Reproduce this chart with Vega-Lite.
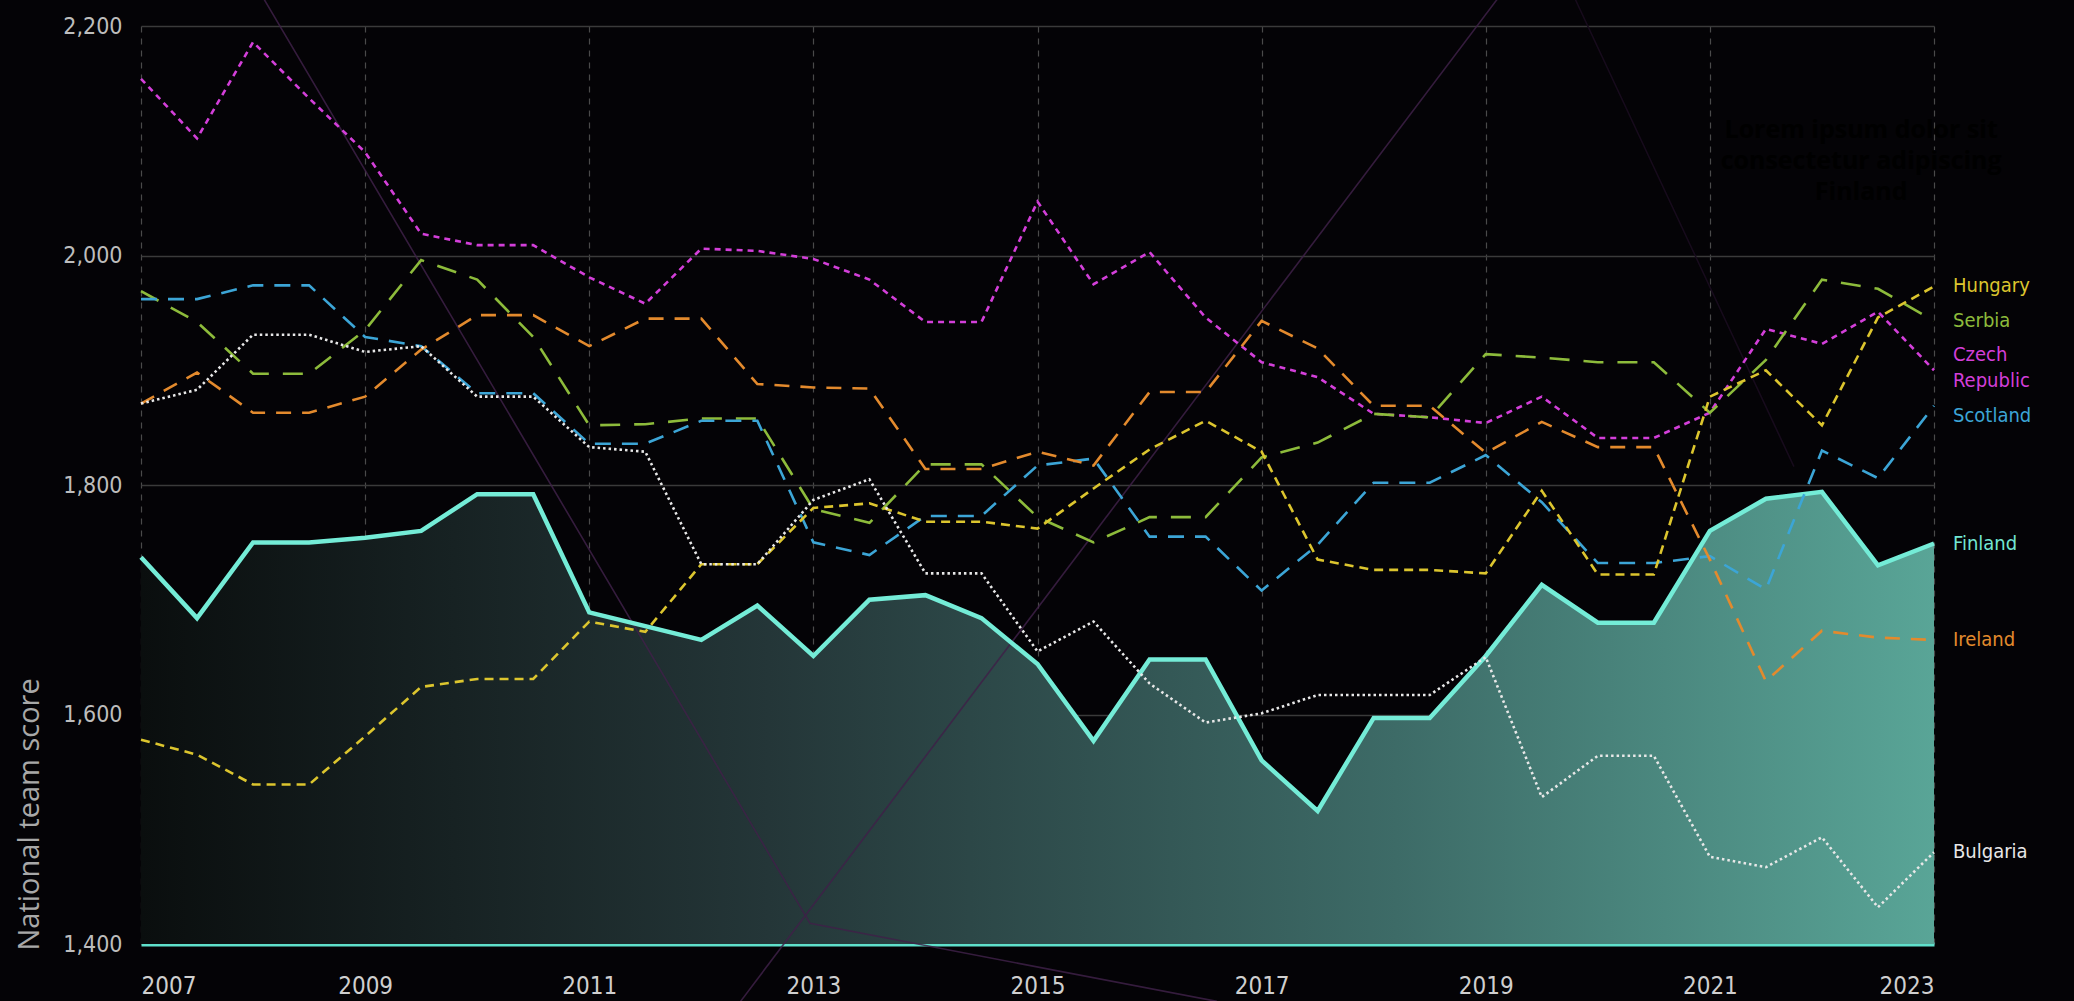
{
  "$schema": "https://vega.github.io/schema/vega-lite/v6.json",
  "width": 1793,
  "height": 918,
  "autosize": {"type": "none"},
  "padding": {"left": 141, "top": 26, "right": 140, "bottom": 57},
  "background": "#040306",
  "config": {
    "view": {"stroke": null},
    "axis": {"labelFont": "DejaVu Sans Condensed", "titleFont": "Open Sans"}
  },
  "datasets": {
    "scores": [
      {"country": "Finland", "year": 2007, "score": 1737}, {"country": "Finland", "year": 2007.5, "score": 1684}, {"country": "Finland", "year": 2008, "score": 1750}, {"country": "Finland", "year": 2008.5, "score": 1750}, {"country": "Finland", "year": 2009, "score": 1754}, {"country": "Finland", "year": 2009.5, "score": 1760}, {"country": "Finland", "year": 2010, "score": 1792}, {"country": "Finland", "year": 2010.5, "score": 1792}, {"country": "Finland", "year": 2011, "score": 1689}, {"country": "Finland", "year": 2011.5, "score": 1677}, {"country": "Finland", "year": 2012, "score": 1665}, {"country": "Finland", "year": 2012.5, "score": 1695}, {"country": "Finland", "year": 2013, "score": 1651}, {"country": "Finland", "year": 2013.5, "score": 1700}, {"country": "Finland", "year": 2014, "score": 1704}, {"country": "Finland", "year": 2014.5, "score": 1684}, {"country": "Finland", "year": 2015, "score": 1644}, {"country": "Finland", "year": 2015.5, "score": 1577}, {"country": "Finland", "year": 2016, "score": 1648}, {"country": "Finland", "year": 2016.5, "score": 1648}, {"country": "Finland", "year": 2017, "score": 1560}, {"country": "Finland", "year": 2017.5, "score": 1516}, {"country": "Finland", "year": 2018, "score": 1597}, {"country": "Finland", "year": 2018.5, "score": 1597}, {"country": "Finland", "year": 2019, "score": 1651}, {"country": "Finland", "year": 2019.5, "score": 1713}, {"country": "Finland", "year": 2020, "score": 1680}, {"country": "Finland", "year": 2020.5, "score": 1680}, {"country": "Finland", "year": 2021, "score": 1760}, {"country": "Finland", "year": 2021.5, "score": 1788}, {"country": "Finland", "year": 2022, "score": 1794}, {"country": "Finland", "year": 2022.5, "score": 1730}, {"country": "Finland", "year": 2023, "score": 1749},

      {"country": "Czech Republic", "year": 2007, "score": 2154}, {"country": "Czech Republic", "year": 2007.5, "score": 2102}, {"country": "Czech Republic", "year": 2008, "score": 2186}, {"country": "Czech Republic", "year": 2008.5, "score": 2137}, {"country": "Czech Republic", "year": 2009, "score": 2090}, {"country": "Czech Republic", "year": 2009.5, "score": 2019}, {"country": "Czech Republic", "year": 2010, "score": 2009}, {"country": "Czech Republic", "year": 2010.5, "score": 2009}, {"country": "Czech Republic", "year": 2011, "score": 1981}, {"country": "Czech Republic", "year": 2011.5, "score": 1958}, {"country": "Czech Republic", "year": 2012, "score": 2006}, {"country": "Czech Republic", "year": 2012.5, "score": 2004}, {"country": "Czech Republic", "year": 2013, "score": 1997}, {"country": "Czech Republic", "year": 2013.5, "score": 1979}, {"country": "Czech Republic", "year": 2014, "score": 1942}, {"country": "Czech Republic", "year": 2014.5, "score": 1942}, {"country": "Czech Republic", "year": 2015, "score": 2047}, {"country": "Czech Republic", "year": 2015.5, "score": 1975}, {"country": "Czech Republic", "year": 2016, "score": 2003}, {"country": "Czech Republic", "year": 2016.5, "score": 1946}, {"country": "Czech Republic", "year": 2017, "score": 1907}, {"country": "Czech Republic", "year": 2017.5, "score": 1894}, {"country": "Czech Republic", "year": 2018, "score": 1862}, {"country": "Czech Republic", "year": 2018.5, "score": 1859}, {"country": "Czech Republic", "year": 2019, "score": 1854}, {"country": "Czech Republic", "year": 2019.5, "score": 1877}, {"country": "Czech Republic", "year": 2020, "score": 1841}, {"country": "Czech Republic", "year": 2020.5, "score": 1841}, {"country": "Czech Republic", "year": 2021, "score": 1863}, {"country": "Czech Republic", "year": 2021.5, "score": 1936}, {"country": "Czech Republic", "year": 2022, "score": 1923}, {"country": "Czech Republic", "year": 2022.5, "score": 1951}, {"country": "Czech Republic", "year": 2023, "score": 1900},

      {"country": "Serbia", "year": 2007, "score": 1969}, {"country": "Serbia", "year": 2007.5, "score": 1942}, {"country": "Serbia", "year": 2008, "score": 1897}, {"country": "Serbia", "year": 2008.5, "score": 1897}, {"country": "Serbia", "year": 2009, "score": 1935}, {"country": "Serbia", "year": 2009.5, "score": 1996}, {"country": "Serbia", "year": 2010, "score": 1979}, {"country": "Serbia", "year": 2010.5, "score": 1929}, {"country": "Serbia", "year": 2011, "score": 1852}, {"country": "Serbia", "year": 2011.5, "score": 1853}, {"country": "Serbia", "year": 2012, "score": 1858}, {"country": "Serbia", "year": 2012.5, "score": 1858}, {"country": "Serbia", "year": 2013, "score": 1779}, {"country": "Serbia", "year": 2013.5, "score": 1767}, {"country": "Serbia", "year": 2014, "score": 1818}, {"country": "Serbia", "year": 2014.5, "score": 1818}, {"country": "Serbia", "year": 2015, "score": 1772}, {"country": "Serbia", "year": 2015.5, "score": 1750}, {"country": "Serbia", "year": 2016, "score": 1772}, {"country": "Serbia", "year": 2016.5, "score": 1772}, {"country": "Serbia", "year": 2017, "score": 1824}, {"country": "Serbia", "year": 2017.5, "score": 1837}, {"country": "Serbia", "year": 2018, "score": 1862}, {"country": "Serbia", "year": 2018.5, "score": 1859}, {"country": "Serbia", "year": 2019, "score": 1914}, {"country": "Serbia", "year": 2019.5, "score": 1911}, {"country": "Serbia", "year": 2020, "score": 1907}, {"country": "Serbia", "year": 2020.5, "score": 1907}, {"country": "Serbia", "year": 2021, "score": 1863}, {"country": "Serbia", "year": 2021.5, "score": 1909}, {"country": "Serbia", "year": 2022, "score": 1979}, {"country": "Serbia", "year": 2022.5, "score": 1971}, {"country": "Serbia", "year": 2023, "score": 1943},

      {"country": "Scotland", "year": 2007, "score": 1962}, {"country": "Scotland", "year": 2007.5, "score": 1962}, {"country": "Scotland", "year": 2008, "score": 1974}, {"country": "Scotland", "year": 2008.5, "score": 1974}, {"country": "Scotland", "year": 2009, "score": 1929}, {"country": "Scotland", "year": 2009.5, "score": 1921}, {"country": "Scotland", "year": 2010, "score": 1880}, {"country": "Scotland", "year": 2010.5, "score": 1880}, {"country": "Scotland", "year": 2011, "score": 1836}, {"country": "Scotland", "year": 2011.5, "score": 1836}, {"country": "Scotland", "year": 2012, "score": 1856}, {"country": "Scotland", "year": 2012.5, "score": 1856}, {"country": "Scotland", "year": 2013, "score": 1750}, {"country": "Scotland", "year": 2013.5, "score": 1739}, {"country": "Scotland", "year": 2014, "score": 1773}, {"country": "Scotland", "year": 2014.5, "score": 1773}, {"country": "Scotland", "year": 2015, "score": 1817}, {"country": "Scotland", "year": 2015.5, "score": 1823}, {"country": "Scotland", "year": 2016, "score": 1755}, {"country": "Scotland", "year": 2016.5, "score": 1755}, {"country": "Scotland", "year": 2017, "score": 1708}, {"country": "Scotland", "year": 2017.5, "score": 1748}, {"country": "Scotland", "year": 2018, "score": 1802}, {"country": "Scotland", "year": 2018.5, "score": 1802}, {"country": "Scotland", "year": 2019, "score": 1826}, {"country": "Scotland", "year": 2019.5, "score": 1785}, {"country": "Scotland", "year": 2020, "score": 1732}, {"country": "Scotland", "year": 2020.5, "score": 1732}, {"country": "Scotland", "year": 2021, "score": 1738}, {"country": "Scotland", "year": 2021.5, "score": 1709}, {"country": "Scotland", "year": 2022, "score": 1830}, {"country": "Scotland", "year": 2022.5, "score": 1806}, {"country": "Scotland", "year": 2023, "score": 1869},

      {"country": "Ireland", "year": 2007, "score": 1871}, {"country": "Ireland", "year": 2007.5, "score": 1898}, {"country": "Ireland", "year": 2008, "score": 1863}, {"country": "Ireland", "year": 2008.5, "score": 1863}, {"country": "Ireland", "year": 2009, "score": 1877}, {"country": "Ireland", "year": 2009.5, "score": 1918}, {"country": "Ireland", "year": 2010, "score": 1948}, {"country": "Ireland", "year": 2010.5, "score": 1948}, {"country": "Ireland", "year": 2011, "score": 1921}, {"country": "Ireland", "year": 2011.5, "score": 1945}, {"country": "Ireland", "year": 2012, "score": 1945}, {"country": "Ireland", "year": 2012.5, "score": 1888}, {"country": "Ireland", "year": 2013, "score": 1885}, {"country": "Ireland", "year": 2013.5, "score": 1884}, {"country": "Ireland", "year": 2014, "score": 1814}, {"country": "Ireland", "year": 2014.5, "score": 1814}, {"country": "Ireland", "year": 2015, "score": 1829}, {"country": "Ireland", "year": 2015.5, "score": 1817}, {"country": "Ireland", "year": 2016, "score": 1881}, {"country": "Ireland", "year": 2016.5, "score": 1881}, {"country": "Ireland", "year": 2017, "score": 1943}, {"country": "Ireland", "year": 2017.5, "score": 1919}, {"country": "Ireland", "year": 2018, "score": 1869}, {"country": "Ireland", "year": 2018.5, "score": 1869}, {"country": "Ireland", "year": 2019, "score": 1828}, {"country": "Ireland", "year": 2019.5, "score": 1855}, {"country": "Ireland", "year": 2020, "score": 1833}, {"country": "Ireland", "year": 2020.5, "score": 1833}, {"country": "Ireland", "year": 2021, "score": 1735}, {"country": "Ireland", "year": 2021.5, "score": 1629}, {"country": "Ireland", "year": 2022, "score": 1673}, {"country": "Ireland", "year": 2022.5, "score": 1667}, {"country": "Ireland", "year": 2023, "score": 1665},

      {"country": "Hungary", "year": 2007, "score": 1578}, {"country": "Hungary", "year": 2007.5, "score": 1565}, {"country": "Hungary", "year": 2008, "score": 1539}, {"country": "Hungary", "year": 2008.5, "score": 1539}, {"country": "Hungary", "year": 2009, "score": 1581}, {"country": "Hungary", "year": 2009.5, "score": 1624}, {"country": "Hungary", "year": 2010, "score": 1631}, {"country": "Hungary", "year": 2010.5, "score": 1631}, {"country": "Hungary", "year": 2011, "score": 1681}, {"country": "Hungary", "year": 2011.5, "score": 1672}, {"country": "Hungary", "year": 2012, "score": 1731}, {"country": "Hungary", "year": 2012.5, "score": 1731}, {"country": "Hungary", "year": 2013, "score": 1780}, {"country": "Hungary", "year": 2013.5, "score": 1784}, {"country": "Hungary", "year": 2014, "score": 1768}, {"country": "Hungary", "year": 2014.5, "score": 1768}, {"country": "Hungary", "year": 2015, "score": 1762}, {"country": "Hungary", "year": 2015.5, "score": 1797}, {"country": "Hungary", "year": 2016, "score": 1831}, {"country": "Hungary", "year": 2016.5, "score": 1856}, {"country": "Hungary", "year": 2017, "score": 1829}, {"country": "Hungary", "year": 2017.5, "score": 1735}, {"country": "Hungary", "year": 2018, "score": 1726}, {"country": "Hungary", "year": 2018.5, "score": 1726}, {"country": "Hungary", "year": 2019, "score": 1723}, {"country": "Hungary", "year": 2019.5, "score": 1795}, {"country": "Hungary", "year": 2020, "score": 1722}, {"country": "Hungary", "year": 2020.5, "score": 1722}, {"country": "Hungary", "year": 2021, "score": 1877}, {"country": "Hungary", "year": 2021.5, "score": 1900}, {"country": "Hungary", "year": 2022, "score": 1852}, {"country": "Hungary", "year": 2022.5, "score": 1946}, {"country": "Hungary", "year": 2023, "score": 1973},

      {"country": "Bulgaria", "year": 2007, "score": 1871}, {"country": "Bulgaria", "year": 2007.5, "score": 1883}, {"country": "Bulgaria", "year": 2008, "score": 1931}, {"country": "Bulgaria", "year": 2008.5, "score": 1931}, {"country": "Bulgaria", "year": 2009, "score": 1916}, {"country": "Bulgaria", "year": 2009.5, "score": 1921}, {"country": "Bulgaria", "year": 2010, "score": 1877}, {"country": "Bulgaria", "year": 2010.5, "score": 1877}, {"country": "Bulgaria", "year": 2011, "score": 1833}, {"country": "Bulgaria", "year": 2011.5, "score": 1829}, {"country": "Bulgaria", "year": 2012, "score": 1731}, {"country": "Bulgaria", "year": 2012.5, "score": 1731}, {"country": "Bulgaria", "year": 2013, "score": 1787}, {"country": "Bulgaria", "year": 2013.5, "score": 1805}, {"country": "Bulgaria", "year": 2014, "score": 1723}, {"country": "Bulgaria", "year": 2014.5, "score": 1723}, {"country": "Bulgaria", "year": 2015, "score": 1655}, {"country": "Bulgaria", "year": 2015.5, "score": 1681}, {"country": "Bulgaria", "year": 2016, "score": 1627}, {"country": "Bulgaria", "year": 2016.5, "score": 1593}, {"country": "Bulgaria", "year": 2017, "score": 1601}, {"country": "Bulgaria", "year": 2017.5, "score": 1617}, {"country": "Bulgaria", "year": 2018, "score": 1617}, {"country": "Bulgaria", "year": 2018.5, "score": 1617}, {"country": "Bulgaria", "year": 2019, "score": 1650}, {"country": "Bulgaria", "year": 2019.5, "score": 1528}, {"country": "Bulgaria", "year": 2020, "score": 1564}, {"country": "Bulgaria", "year": 2020.5, "score": 1564}, {"country": "Bulgaria", "year": 2021, "score": 1476}, {"country": "Bulgaria", "year": 2021.5, "score": 1467}, {"country": "Bulgaria", "year": 2022, "score": 1493}, {"country": "Bulgaria", "year": 2022.5, "score": 1432}, {"country": "Bulgaria", "year": 2023, "score": 1480}
    ],
    "deco": [
      {"seg": "a", "year": 2008.1, "score": 2223},
      {"seg": "a", "year": 2012.97, "score": 1418},
      {"seg": "a", "year": 2016.6, "score": 1350},
      {"seg": "b", "year": 2012.35, "score": 1350},
      {"seg": "b", "year": 2019.1, "score": 2223}
    ],
    "deco2": [
      {"seg": "c", "year": 2019.8, "score": 2223},
      {"seg": "c", "year": 2021.75, "score": 1816}
    ],
    "note": [
      {"year": 2022.35, "score": 2120, "text": "Lorem ipsum dolor sit\nconsectetur adipiscing\nFinland"}
    ]
  },
  "data": {"name": "scores"},
  "layer": [
    {
      "transform": [{"filter": "datum.country === 'Finland'"}],
      "mark": {
        "type": "area",
        "color": {
          "gradient": "linear", "x1": 0, "x2": 1, "y1": 0, "y2": 0,
          "stops": [
            {"offset": 0, "color": "#0a0e0e"},
            {"offset": 0.35, "color": "#243638"},
            {"offset": 0.7, "color": "#3d6b67"},
            {"offset": 1, "color": "#59a597"}
          ]
        }
      },
      "encoding": {
        "x": {
          "field": "year", "type": "quantitative",
          "scale": {"domain": [2007, 2023], "nice": false, "zero": false},
          "axis": {
            "values": [2007, 2009, 2011, 2013, 2015, 2017, 2019, 2021, 2023],
            "format": "d", "title": null,
            "labelFontSize": 24, "labelColor": "#cfcfcf", "labelPadding": 30,
            "ticks": false,
            "domain": true, "domainColor": "#5fe0cb", "domainWidth": 4,
            "grid": true, "gridColor": "#4a4a4a", "gridDash": [6, 6], "gridWidth": 1.2
          }
        },
        "y": {
          "field": "score", "type": "quantitative",
          "scale": {"domain": [1400, 2200], "nice": false, "zero": false},
          "axis": {
            "values": [1400, 1600, 1800, 2000, 2200],
            "format": ",d",
            "labelFontSize": 23, "labelColor": "#bdbdbd", "labelPadding": 19,
            "ticks": false, "domain": false,
            "grid": true, "gridColor": "#3a3a3a", "gridWidth": 1.5,
            "title": "National team score",
            "titleFontSize": 29, "titleFontWeight": "normal", "titleColor": "#a8a8a8",
            "titleAngle": -90, "titleX": -112, "titleY": 924,
            "titleAlign": "left", "titleBaseline": "middle"
          }
        },
        "y2": {"datum": 1400}
      }
    },
    {
      "data": {"name": "deco"},
      "mark": {"type": "line", "strokeWidth": 1.6, "color": "#3e2148", "opacity": 0.85},
      "encoding": {
        "x": {"field": "year", "type": "quantitative"},
        "y": {"field": "score", "type": "quantitative"},
        "detail": {"field": "seg"}
      }
    },
    {
      "data": {"name": "deco2"},
      "mark": {"type": "line", "strokeWidth": 1.5, "color": "#170b1c"},
      "encoding": {
        "x": {"field": "year", "type": "quantitative"},
        "y": {"field": "score", "type": "quantitative"}
      }
    },
    {
      "transform": [{"filter": "datum.country === 'Finland'"}],
      "mark": {"type": "line", "color": "#74ecd7", "strokeWidth": 4.5, "strokeJoin": "miter"},
      "encoding": {
        "x": {"field": "year", "type": "quantitative"},
        "y": {"field": "score", "type": "quantitative"}
      }
    },
    {
      "transform": [{"filter": "datum.country !== 'Finland'"}],
      "mark": {"type": "line", "strokeWidth": 2.6},
      "encoding": {
        "x": {"field": "year", "type": "quantitative"},
        "y": {"field": "score", "type": "quantitative"},
        "detail": {"field": "country"},
        "color": {
          "field": "country", "type": "nominal", "legend": null,
          "scale": {
            "domain": ["Hungary", "Serbia", "Czech Republic", "Scotland", "Finland", "Ireland", "Bulgaria"],
            "range": ["#dcc52e", "#8dbb3b", "#d33fd9", "#3ca5d6", "#72e6d2", "#e38a2d", "#e8e8e8"]
          }
        },
        "strokeDash": {
          "field": "country", "type": "nominal", "legend": null,
          "scale": {
            "domain": ["Hungary", "Serbia", "Czech Republic", "Scotland", "Ireland", "Bulgaria"],
            "range": [[9, 6], [20, 14], [6, 5], [16, 11], [15, 11], [2.5, 3]]
          }
        }
      }
    },
    {
      "transform": [{"filter": "datum.year === 2023 && datum.country !== 'Czech Republic' && datum.country !== 'Scotland'"}],
      "mark": {
        "type": "text", "align": "left", "baseline": "middle", "dx": 19,
        "font": "DejaVu Sans Condensed", "fontSize": 20
      },
      "encoding": {
        "x": {"field": "year", "type": "quantitative"},
        "y": {"field": "score", "type": "quantitative"},
        "text": {"field": "country"},
        "color": {"field": "country", "type": "nominal", "legend": null}
      }
    },
    {
      "transform": [{"filter": "datum.year === 2023 && datum.country === 'Czech Republic'"}],
      "mark": {
        "type": "text", "align": "left", "baseline": "middle", "dx": 19, "dy": -15,
        "font": "DejaVu Sans Condensed", "fontSize": 20, "lineBreak": " ", "lineHeight": 26
      },
      "encoding": {
        "x": {"field": "year", "type": "quantitative"},
        "y": {"field": "score", "type": "quantitative"},
        "text": {"field": "country"},
        "color": {"field": "country", "type": "nominal", "legend": null}
      }
    },
    {
      "transform": [{"filter": "datum.year === 2023 && datum.country === 'Scotland'"}],
      "mark": {
        "type": "text", "align": "left", "baseline": "middle", "dx": 19, "dy": 10,
        "font": "DejaVu Sans Condensed", "fontSize": 20
      },
      "encoding": {
        "x": {"field": "year", "type": "quantitative"},
        "y": {"field": "score", "type": "quantitative"},
        "text": {"field": "country"},
        "color": {"field": "country", "type": "nominal", "legend": null}
      }
    },
    {
      "data": {"name": "note"},
      "mark": {
        "type": "text", "align": "center", "baseline": "top",
        "font": "Open Sans", "fontWeight": "bold", "fontSize": 25,
        "lineBreak": "\n", "lineHeight": 31, "color": "#000000"
      },
      "encoding": {
        "x": {"field": "year", "type": "quantitative"},
        "y": {"field": "score", "type": "quantitative"},
        "text": {"field": "text"}
      }
    }
  ]
}
